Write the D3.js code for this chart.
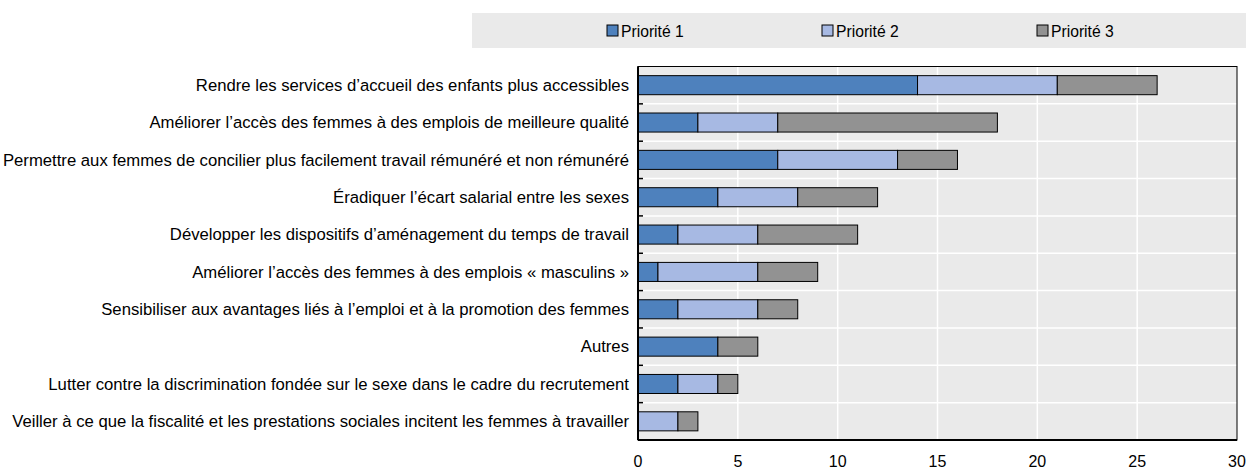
<!DOCTYPE html>
<html>
<head>
<meta charset="utf-8">
<script src="https://cdn.jsdelivr.net/npm/d3@7"></script>
<style>
	body { margin: 0; background: #fff; }
	svg text { font-family: 'Liberation Sans Narrow', 'Arial Narrow', 'Liberation Sans', Arial, sans-serif; fill: #000; }
</style>
</head>
<body>
<svg id="canvas" width="1246" height="470"></svg>
<script>
let categories = [
	'Rendre les services d\u2019accueil des enfants plus accessibles',
	'Am\u00e9liorer l\u2019acc\u00e8s des femmes \u00e0 des emplois de meilleure qualit\u00e9',
	'Permettre aux femmes de concilier plus facilement travail r\u00e9mun\u00e9r\u00e9 et non r\u00e9mun\u00e9r\u00e9',
	'\u00c9radiquer l\u2019\u00e9cart salarial entre les sexes',
	'D\u00e9velopper les dispositifs d\u2019am\u00e9nagement du temps de travail',
	'Am\u00e9liorer l\u2019acc\u00e8s des femmes \u00e0 des emplois \u00ab masculins \u00bb',
	'Sensibiliser aux avantages li\u00e9s \u00e0 l\u2019emploi et \u00e0 la promotion des femmes',
	'Autres',
	'Lutter contre la discrimination fond\u00e9e sur le sexe dans le cadre du recrutement',
	'Veiller \u00e0 ce que la fiscalit\u00e9 et les prestations sociales incitent les femmes \u00e0 travailler'
];

let priorite1 = [14, 3, 7, 4, 2, 1, 2, 4, 2, 0];
let priorite2 = [7, 4, 6, 4, 4, 5, 4, 0, 2, 2];
let priorite3 = [5, 11, 3, 4, 5, 3, 2, 2, 1, 1];

let seriesNames = ['Priorit\u00e9 1', 'Priorit\u00e9 2', 'Priorit\u00e9 3'];
let seriesColors = ['#4E81BD', '#A7B9E3', '#929292'];
let xTicks = [0, 5, 10, 15, 20, 25, 30];

let canvas = d3.select('#canvas');

let plotLeft = 638, plotRight = 1237, plotTop = 66.5, plotBottom = 440;

let rows = categories.map((name, i) => {
	return { name: name, p1: priorite1[i], p2: priorite2[i], p3: priorite3[i] };
});

let stack = d3.stack().keys(['p1', 'p2', 'p3'])(rows);

let xScale = d3.scaleLinear().domain([0, 30]).range([plotLeft, plotRight]);
let yScale = d3.scaleBand().domain(categories).range([plotTop, plotBottom]).paddingInner(0.49).paddingOuter(0.245);
let bandScale = d3.scaleBand().domain(categories).range([plotTop, plotBottom]);

// legend
canvas.append('rect')
	.attr('x', 472).attr('y', 13).attr('width', 774).attr('height', 35)
	.attr('fill', '#EAEAEA');

let legendX = [607, 822, 1037];
seriesNames.forEach((name, i) => {
	canvas.append('rect')
		.attr('x', legendX[i]).attr('y', 25).attr('width', 11).attr('height', 11)
		.attr('fill', seriesColors[i]).attr('stroke', '#000').attr('stroke-width', 1);
	canvas.append('text')
		.attr('x', legendX[i] + 14).attr('y', 36.5)
		.attr('font-size', 15.7)
		.text(name);
});

// plot background
canvas.append('rect')
	.attr('x', plotLeft).attr('y', plotTop).attr('width', plotRight - plotLeft).attr('height', plotBottom - plotTop)
	.attr('fill', '#EAEAEA');

// grid lines
canvas.append('g')
	.selectAll('line')
	.data(xTicks.slice(1, -1))
	.enter()
	.append('line')
	.attr('x1', (d) => xScale(d)).attr('x2', (d) => xScale(d))
	.attr('y1', plotTop).attr('y2', plotBottom)
	.attr('stroke', '#fff').attr('stroke-width', 1.5);

canvas.append('g')
	.selectAll('line')
	.data(categories.slice(1))
	.enter()
	.append('line')
	.attr('x1', plotLeft).attr('x2', plotRight)
	.attr('y1', (d) => bandScale(d)).attr('y2', (d) => bandScale(d))
	.attr('stroke', '#fff').attr('stroke-width', 1.5);

// bars
stack.forEach((layer, i) => {
	canvas.append('g')
		.selectAll('rect')
		.data(layer.filter((d) => d[1] - d[0] > 0))
		.enter()
		.append('rect')
		.attr('x', (d) => xScale(d[0]))
		.attr('y', (d) => yScale(d.data.name))
		.attr('width', (d) => xScale(d[1]) - xScale(d[0]))
		.attr('height', yScale.bandwidth())
		.attr('fill', seriesColors[i])
		.attr('stroke', '#000')
		.attr('stroke-width', 1);
});

// frame
canvas.append('rect')
	.attr('x', plotLeft).attr('y', plotTop).attr('width', plotRight - plotLeft).attr('height', plotBottom - plotTop)
	.attr('fill', 'none').attr('stroke', '#000').attr('stroke-width', 1);

canvas.append('line')
	.attr('x1', plotLeft).attr('x2', plotRight).attr('y1', plotBottom).attr('y2', plotBottom)
	.attr('stroke', '#000').attr('stroke-width', 2);
canvas.append('line')
	.attr('x1', plotLeft).attr('x2', plotLeft).attr('y1', plotTop).attr('y2', plotBottom)
	.attr('stroke', '#000').attr('stroke-width', 2);

// y ticks (inside, at band boundaries)
canvas.append('g')
	.selectAll('line')
	.data(categories.slice(1))
	.enter()
	.append('line')
	.attr('x1', plotLeft).attr('x2', plotLeft + 5)
	.attr('y1', (d) => bandScale(d)).attr('y2', (d) => bandScale(d))
	.attr('stroke', '#000').attr('stroke-width', 1.5);

// category labels
canvas.append('g')
	.selectAll('text')
	.data(categories)
	.enter()
	.append('text')
	.attr('x', plotLeft - 9)
	.attr('y', (d) => bandScale(d) + bandScale.bandwidth() / 2)
	.attr('dy', '0.35em')
	.attr('text-anchor', 'end')
	.attr('font-size', 16.7)
	.text((d) => d);

// x axis labels
canvas.append('g')
	.selectAll('text')
	.data(xTicks)
	.enter()
	.append('text')
	.attr('x', (d) => xScale(d))
	.attr('y', 467)
	.attr('text-anchor', 'middle')
	.attr('font-size', 16)
	.text((d) => d);
</script>
</body>
</html>
